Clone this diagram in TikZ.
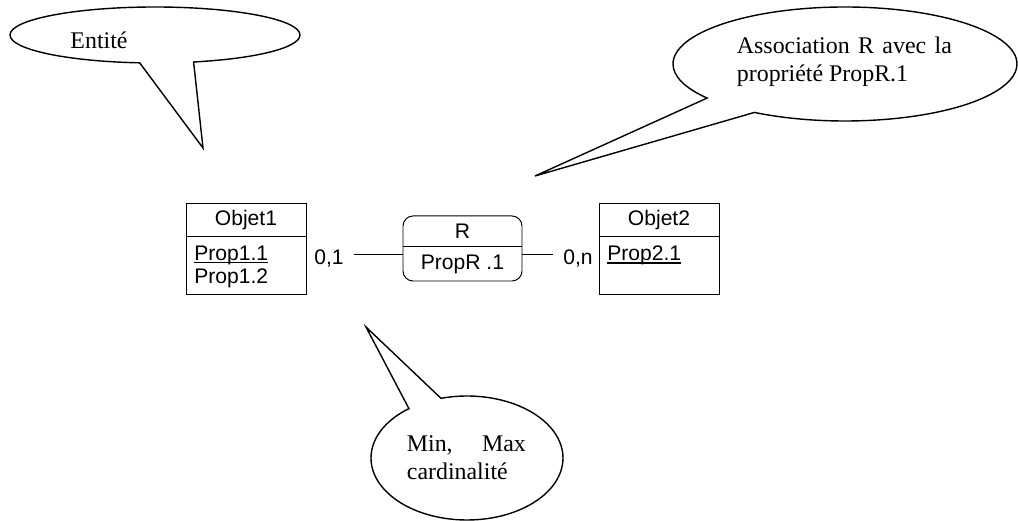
\documentclass[tikz,border=0pt]{standalone}
\usepackage{fontspec}
\setmainfont{Liberation Serif}
\setsansfont{Liberation Sans}
\usetikzlibrary{positioning,shapes.callouts}

% underlined identifier of an entity
\newcommand{\keyprop}[1]{\setbox0\hbox{#1}\rlap{\rule[-1.8pt]{\wd0}{1.1pt}}#1}

\tikzset{
    mcdfont/.style={font=\sffamily\fontsize{15}{16.4}\selectfont},
    entitytitle/.style={draw, line width=0.7pt, mcdfont, minimum width=3cm, minimum height=0.8cm, inner sep=0pt, outer sep=0pt},
    entitybody/.style={draw, line width=0.7pt, minimum width=3cm, minimum height=1.45cm, inner sep=0pt, outer sep=0pt},
    proplist/.style={mcdfont, anchor=north west, align=left, inner xsep=0.2cm, inner ysep=0.25cm},
    assocbox/.style={draw, line width=0.7pt, rounded corners=0.25cm, minimum width=2.975cm, minimum height=1.625cm, outer sep=0pt},
    cardlabel/.style={mcdfont, inner xsep=0.25cm},
    bubble/.style={ellipse callout, draw, line width=1pt, callout pointer arc=21.5, inner sep=0pt},
    bubbletext/.style={font=\fontsize{17}{20}\selectfont, inner sep=0pt}
}

\begin{document}
\begin{tikzpicture}

    \useasboundingbox (0,0) rectangle (25.45,13.025);

    % Entities
    \node[entitytitle] (obj1) at (6.15,7.525) {Objet1};
    \node[entitybody, below=0pt of obj1] (obj1body) {};
    \node[proplist] (obj1props) at (obj1body.north west) {\keyprop{Prop1.1}\\Prop1.2};

    \node[entitytitle] (obj2) at (16.475,7.525) {Objet2};
    \node[entitybody, below=0pt of obj2] (obj2body) {};
    \node[proplist] (obj2props) at (obj2body.north west) {\keyprop{Prop2.1}};

    % Association R
    \node[assocbox] (rel) at (11.5625,6.8125) {};
    \draw[line width=0.7pt] ([yshift=0.04cm]rel.west) -- ([yshift=0.04cm]rel.east);
    \node[mcdfont] (relname) at (11.5625,7.2375) {R};
    \node[mcdfont] (relprop) at (11.5625,6.425) {PropR .1};

    % Cardinalities and links
    \node[cardlabel] (card1) at (8.225,6.575) {0,1};
    \node[cardlabel] (card2) at (14.45,6.575) {0,n};
    \coordinate (lnk1) at ([yshift=0.09cm]card1.east);
    \coordinate (lnk2) at ([yshift=0.09cm]card2.west);
    \draw[line width=0.7pt] (lnk1) -- (lnk1 -| rel.west);
    \draw[line width=0.7pt] (lnk2) -- (lnk2 -| rel.east);

    % Callouts
    \coordinate (entptr) at (5.075,9.325);
    \node[bubble, minimum width=7.25cm, minimum height=1.4cm, callout absolute pointer={(entptr)}] (entbubble) at (3.875,12.15) {};
    \node[bubbletext] (enttext) at (2.475,12.025) {Entité};

    \coordinate (assocptr) at (13.375,8.625);
    \node[bubble, minimum width=8.6cm, minimum height=2.85cm, callout absolute pointer={(assocptr)}] (assocbubble) at (21.125,11.425) {};
    \node[bubbletext, text width=5.375cm, align=justify] (assoctext) at (21.11,11.475) {Association R avec la\linebreak propriété PropR.1};

    \coordinate (cardptr) at (9.15,4.85);
    \node[bubble, minimum width=4.8cm, minimum height=3.1cm, callout absolute pointer={(cardptr)}] (cardbubble) at (11.675,1.575) {};
    \node[bubbletext, text width=2.975cm, align=justify] (cardtext) at (11.66,1.5875) {Min, Max\linebreak cardinalité};

\end{tikzpicture}
\end{document}
